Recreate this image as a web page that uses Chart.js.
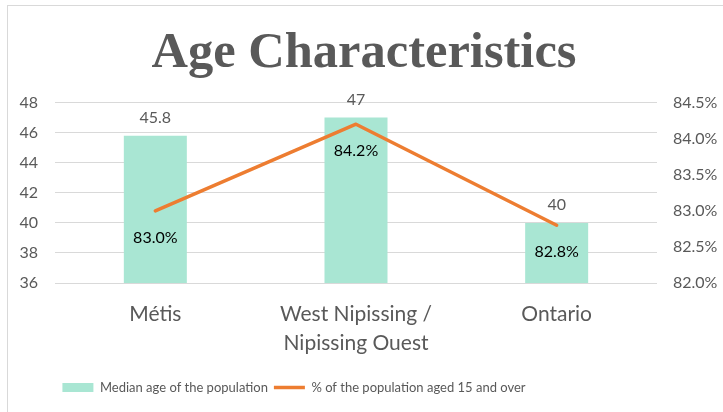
<!DOCTYPE html>
<html>
<head>
<meta charset="utf-8">
<script src="https://cdn.jsdelivr.net/npm/chart.js@4.4.1/dist/chart.umd.min.js"></script>
<style>
  html, body { margin: 0; padding: 0; background: #fff; }
  #wrap { position: relative; width: 723px; height: 412px; overflow: hidden; }
  #frame { position: absolute; left: 7px; top: 5px; width: 760px; height: 460px; border: 1px solid #D9D9D9; box-sizing: border-box; }
  canvas { position: absolute; left: 0; top: 0; }
</style>
</head>
<body>
<div id="wrap">
  <div id="frame"></div>
  <canvas id="c" width="723" height="412"></canvas>
</div>
<script>
const categories = ['Métis', ['West Nipissing /', 'Nipissing Ouest'], 'Ontario'];
const medianAge = [45.8, 47, 40];
const pctAged15Plus = [83.0, 84.2, 82.8];
const leftTicks = [36, 38, 40, 42, 44, 46, 48];
const rightTicks = [82.0, 82.5, 83.0, 83.5, 84.0, 84.5];
const seriesNames = ['Median age of the population', '% of the population aged 15 and over'];

const FONT = "Lato, 'Open Sans', sans-serif";
const GREY = '#595959';

const valueLabels = {
  id: 'valueLabels',
  afterDatasetsDraw(chart) {
    const ctx = chart.ctx;
    ctx.save();
    ctx.textAlign = 'center';
    ctx.textBaseline = 'middle';
    ctx.font = '16px ' + FONT;
    const barMeta = chart.getDatasetMeta(1);
    barMeta.data.forEach((el, i) => {
      ctx.fillStyle = GREY;
      ctx.fillText(String(medianAge[i]), el.x, el.y - 18);
    });
    const lineMeta = chart.getDatasetMeta(0);
    lineMeta.data.forEach((el, i) => {
      ctx.fillStyle = '#000';
      ctx.fillText(pctAged15Plus[i].toFixed(1) + '%', el.x, el.y + 27);
    });
    ctx.restore();
  }
};

// Legend in the reference sits left of centre (the chart frame runs past the picture).
const legendShift = {
  id: 'legendShift',
  afterLayout(chart) {
    const lg = chart.legend;
    if (!lg) return;
    const pad = lg.options.labels.padding;
    lg.right = Math.round(chart.width * 0.822) - lg.left - pad;
  }
};

new Chart(document.getElementById('c'), {
  data: {
    labels: categories,
    datasets: [
      {
        type: 'line',
        label: seriesNames[1],
        data: pctAged15Plus,
        yAxisID: 'y1',
        borderColor: '#ED7D31',
        backgroundColor: '#ED7D31',
        borderWidth: 3.5,
        borderCapStyle: 'round',
        borderJoinStyle: 'round',
        pointRadius: 0,
        pointHoverRadius: 0,
        pointStyle: 'line',
        order: 0
      },
      {
        type: 'bar',
        label: seriesNames[0],
        data: medianAge,
        yAxisID: 'y',
        backgroundColor: '#A9E6D3',
        borderWidth: 0,
        categoryPercentage: 1,
        barPercentage: 0.314,
        pointStyle: 'rect',
        order: 1
      }
    ]
  },
  options: {
    responsive: false,
    animation: false,
    devicePixelRatio: 1,
    layout: { padding: { left: 10, right: 5, top: 8, bottom: 8 } },
    plugins: {
      title: {
        display: true,
        text: 'Age Characteristics',
        color: GREY,
        font: { family: "'Liberation Serif', serif", size: 50.5, weight: 'bold', lineHeight: 1.1 },
        padding: { top: 18, bottom: 21 }
      },
      legend: {
        position: 'bottom',
        reverse: true,
        labels: {
          usePointStyle: true,
          pointStyleWidth: 31,
          boxHeight: 9,
          color: GREY,
          font: { family: FONT, size: 13 },
          padding: 6
        }
      },
      tooltip: { enabled: false }
    },
    scales: {
      x: {
        grid: { display: false, drawTicks: false },
        border: { display: false },
        ticks: {
          color: GREY,
          font: { family: FONT, size: 21, lineHeight: 1.38 },
          padding: 17,
          maxRotation: 0
        }
      },
      y: {
        position: 'left',
        min: 36, max: 48,
        afterBuildTicks(s) { s.ticks = leftTicks.map(v => ({ value: v })); },
        afterFit(s) { s.width = 45; },
        grid: { color: '#D9D9D9', lineWidth: 1, drawTicks: false },
        border: { display: false },
        ticks: { color: GREY, font: { family: FONT, size: 16 }, padding: 17 }
      },
      y1: {
        position: 'right',
        min: 82, max: 84.5,
        afterBuildTicks(s) { s.ticks = rightTicks.map(v => ({ value: v })); },
        afterFit(s) { s.width = 61; },
        grid: { display: false, drawTicks: false },
        border: { display: false },
        ticks: {
          color: GREY, font: { family: FONT, size: 16 }, padding: 16,
          callback: v => Number(v).toFixed(1) + '%'
        }
      }
    }
  },
  plugins: [valueLabels, legendShift]
});
</script>
</body>
</html>
